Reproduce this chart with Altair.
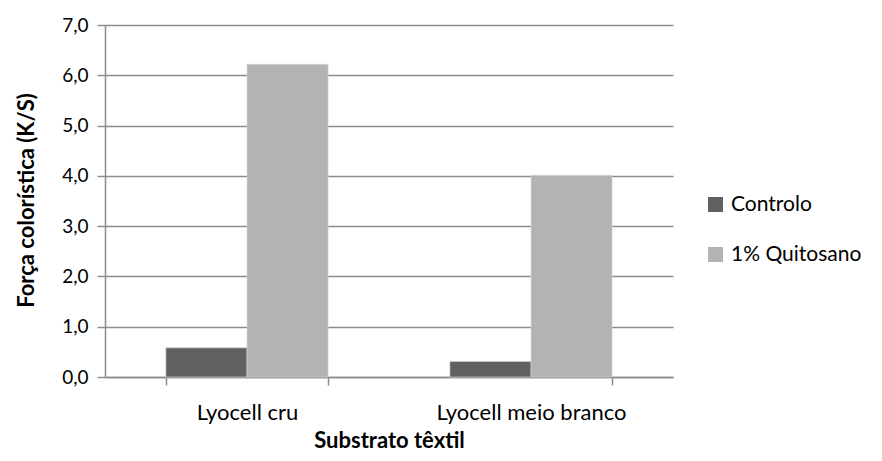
import altair as alt
import pandas as pd

substratos = ["Lyocell cru", "Lyocell meio branco"]
series = ["Controlo", "1% Quitosano"]
controlo = [0.58, 0.31]
quitosano = [6.22, 4.01]
cores = ["#616161", "#b3b3b3"]
y_ticks = [0, 1, 2, 3, 4, 5, 6, 7]

rows = []
for i, s in enumerate(substratos):
    rows.append({"Substrato": s, "Serie": series[0], "Valor": controlo[i]})
    rows.append({"Substrato": s, "Serie": series[1], "Valor": quitosano[i]})
df = pd.DataFrame(rows)

FONT = "Lato"
GRID = "#8c8c8c"

chart = alt.Chart(df).mark_bar(stroke="#d9d9d9", strokeWidth=0.6).encode(
    x=alt.X(
        "Substrato:N",
        sort=substratos,
        scale=alt.Scale(paddingInner=0.4286, paddingOuter=0.2143),
        axis=alt.Axis(
            title="Substrato têxtil",
            labelAngle=0,
            labelLimit=0,
            tickBand="extent",
            tickSize=8,
            tickColor=GRID,
            tickWidth=1.5,
            domainColor=GRID,
            domainWidth=1.5,
            labelFont=FONT,
            labelFontSize=22,
            labelColor="#000000",
            labelPadding=17,
            titleFont=FONT,
            titleFontSize=22,
            titleFontWeight="bold",
            titleColor="#000000",
            titleX=284,
            titleY=70,
            titleBaseline="alphabetic",
        ),
    ),
    xOffset=alt.XOffset("Serie:N", sort=series),
    y=alt.Y(
        "Valor:Q",
        scale=alt.Scale(domain=[0, 7], nice=False),
        axis=alt.Axis(
            title="Força colorística (K/S)",
            values=y_ticks,
            labelExpr="replace(format(datum.value, '.1f'), '.', ',')",
            tickSize=8,
            tickColor=GRID,
            tickWidth=1.5,
            domainColor=GRID,
            domainWidth=1.5,
            gridColor=GRID,
            gridWidth=1.5,
            labelFont=FONT,
            labelFontSize=19,
            labelColor="#000000",
            labelPadding=9,
            titleFont=FONT,
            titleFontSize=22,
            titleFontWeight="bold",
            titleColor="#000000",
            titleX=-79,
            titleY=175,
            titleBaseline="middle",
            titleAngle=270,
        ),
    ),
    color=alt.Color(
        "Serie:N",
        sort=series,
        scale=alt.Scale(domain=series, range=cores),
        legend=alt.Legend(
            title=None,
            orient="none",
            legendX=600,
            legendY=169,
            symbolType="square",
            symbolSize=225,
            symbolStrokeWidth=0,
            labelFont=FONT,
            labelFontSize=21,
            labelColor="#000000",
            labelLimit=0,
            rowPadding=28,
            labelOffset=5,
        ),
    ),
).properties(
    width=568,
    height=352,
    autosize=alt.AutoSizeParams(type="none"),
    padding={"left": 97, "top": 17, "right": 201, "bottom": 76},
).configure_view(stroke=None)

chart.save("out.html", embed_options={"renderer": "svg", "actions": False})
